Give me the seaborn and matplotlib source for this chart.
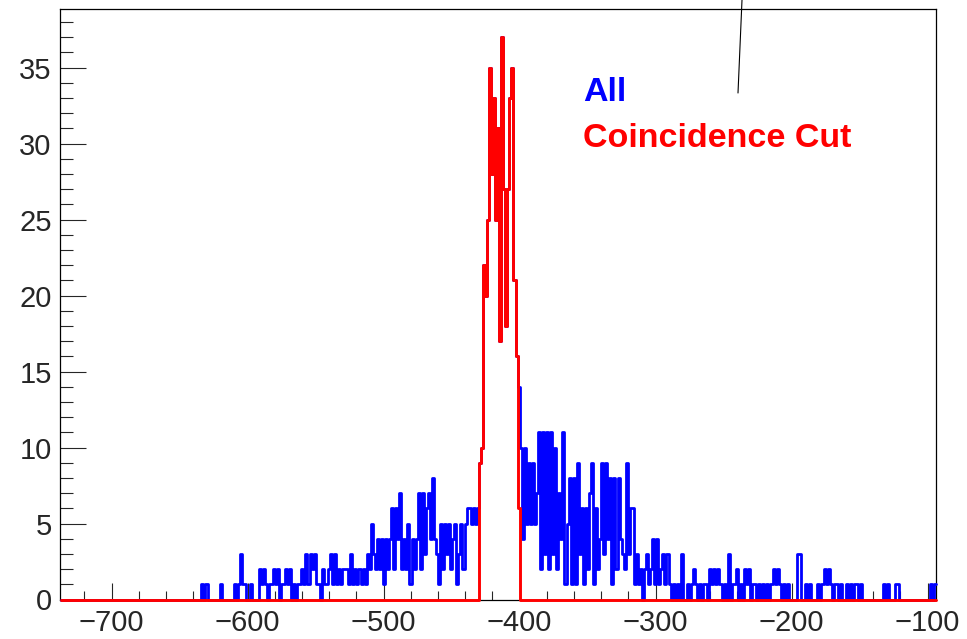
import numpy as np
import pandas as pd
import matplotlib
matplotlib.use("Agg")
import matplotlib.pyplot as plt
from matplotlib.ticker import MultipleLocator
from matplotlib.lines import Line2D
import seaborn as sns

# Histogram binning: 1.5 wide bins over the plotted range
x_lo, x_hi, bin_w = -737.5, -94.0, 1.5

# Counts of all events, starting at bin edge all_start
all_start = -647.5
all_counts = [
    0, 0, 0, 0, 0, 0, 0, 0, 0, 1,
    0, 1, 0, 0, 0, 0, 0, 0, 1, 0,
    0, 0, 0, 0, 0, 1, 0, 1, 3, 1,
    1, 0, 0, 1, 0, 0, 0, 2, 1, 2,
    1, 0, 1, 1, 2, 1, 2, 0, 1, 1,
    2, 1, 2, 0, 1, 0, 1, 1, 2, 1,
    3, 1, 3, 2, 3, 1, 1, 0, 2, 1,
    1, 2, 3, 1, 3, 1, 2, 1, 2, 2,
    2, 1, 3, 1, 2, 1, 2, 1, 2, 1,
    3, 2, 5, 3, 2, 4, 2, 4, 1, 4,
    2, 4, 6, 2, 6, 4, 7, 2, 4, 2,
    5, 1, 4, 2, 4, 7, 2, 7, 3, 6,
    7, 4, 8, 4, 3, 1, 5, 2, 5, 3,
    5, 2, 4, 5, 1, 3, 5, 2, 5, 6,
    6, 5, 6, 5, 6, 9, 10, 22, 20, 25,
    35, 28, 33, 25, 31, 17, 37, 27, 18, 27,
    33, 35, 21, 16, 14, 10, 4, 10, 5, 9,
    5, 9, 5, 7, 11, 2, 11, 3, 11, 2,
    11, 3, 10, 2, 7, 4, 11, 1, 5, 8,
    1, 8, 1, 9, 3, 6, 1, 6, 2, 7,
    9, 1, 6, 2, 4, 9, 3, 9, 4, 8,
    1, 8, 2, 8, 4, 3, 2, 9, 3, 6,
    6, 1, 3, 1, 2, 0, 2, 3, 1, 2,
    4, 1, 4, 1, 2, 3, 1, 3, 1, 0,
    1, 0, 1, 0, 3, 0, 0, 1, 0, 1,
    2, 1, 0, 1, 0, 1, 1, 0, 2, 1,
    2, 1, 2, 1, 0, 1, 0, 3, 0, 1,
    1, 2, 0, 1, 0, 2, 1, 2, 0, 1,
    1, 0, 1, 0, 1, 0, 1, 0, 1, 2,
    1, 2, 1, 0, 1, 0, 1, 0, 0, 0,
    0, 3, 3, 0, 0, 1, 0, 1, 0, 0,
    0, 1, 0, 1, 2, 1, 2, 1, 0, 1,
    1, 0, 1, 0, 0, 1, 0, 1, 0, 1,
    1, 0, 1, 0, 0, 0, 0, 0, 0, 0,
    0, 0, 0, 1, 0, 1, 0, 0, 0, 1,
    1, 0, 0, 0, 0, 0, 0, 0, 0, 0,
    0, 0, 0, 0, 0, 0, 1, 0, 1,
]

# Counts passing the coincidence cut, starting at bin edge cut_start
cut_start = -430.0
cut_counts = [9, 10, 22, 20, 25, 35, 28, 33, 25, 31,
              17, 37, 27, 18, 27, 33, 35, 21, 16, 6]

legend_labels = ["All", "Coincidence Cut"]
series_colors = ["#0000ff", "#ff0000"]
x_major = [-700, -600, -500, -400, -300, -200, -100]
y_major = [0, 5, 10, 15, 20, 25, 30, 35]

n_bins = int(round((x_hi - x_lo) / bin_w))
edges = [x_lo + bin_w * i for i in range(n_bins + 1)]
centers = [0.5 * (edges[i] + edges[i + 1]) for i in range(n_bins)]


def full_counts(counts, start):
    arr = np.zeros(n_bins)
    i0 = int(round((start - x_lo) / bin_w))
    arr[i0:i0 + len(counts)] = counts
    return arr


df = pd.DataFrame({
    "x": centers,
    "all": full_counts(all_counts, all_start),
    "cut": full_counts(cut_counts, cut_start),
})

sns.set_style("white")
plt.rcParams["font.family"] = ["Liberation Sans", "DejaVu Sans"]

fig = plt.figure(figsize=(9.67, 6.39), dpi=100)
ax = fig.add_axes([60 / 967, 39.5 / 639, 875.7 / 967, 590.5 / 639])

sns.histplot(data=df, x="x", weights="all", bins=edges, element="step",
             fill=False, color=series_colors[0], linewidth=2.0, ax=ax)
sns.histplot(data=df, x="x", weights="cut", bins=edges, element="step",
             fill=False, color=series_colors[1], linewidth=2.1, ax=ax)
for ln, z in zip(ax.lines, [3.0, 3.1]):
    ln.set_clip_on(False)
    ln.set_zorder(z)

ax.set_xlim(-738, -94)
ax.set_ylim(0, 38.85)
ax.set_xlabel("")
ax.set_ylabel("")

ax.set_xticks(x_major)
ax.set_yticks(y_major)
ax.xaxis.set_minor_locator(MultipleLocator(20))
ax.yaxis.set_minor_locator(MultipleLocator(1))
ax.tick_params(axis="x", which="major", direction="in", length=12.5, width=0.8,
               labelsize=21, pad=7, top=False, bottom=True)
ax.tick_params(axis="x", which="minor", direction="in", length=6.3, width=0.8,
               top=False, bottom=True)
ax.tick_params(axis="y", which="major", direction="in", length=18.8, width=0.8,
               labelsize=21, pad=6, right=False, left=True)
ax.tick_params(axis="y", which="minor", direction="in", length=9.4, width=0.8,
               right=False, left=True)
for sp in ax.spines.values():
    sp.set_visible(True)
    sp.set_color("black")
    sp.set_linewidth(0.9)

# Legend entries as coloured bold text
fig.text(583 / 967, 1 - 101 / 639, legend_labels[0], color=series_colors[0],
         fontsize=24.5, fontweight="bold", va="baseline", ha="left")
fig.text(583 / 967, 1 - 147 / 639, legend_labels[1], color=series_colors[1],
         fontsize=24.5, fontweight="bold", va="baseline", ha="left")

# Thin marker line hanging from the top edge
fig.add_artist(Line2D([742 / 967, 738 / 967], [1.0, 1 - 93 / 639],
                      transform=fig.transFigure, color="black", linewidth=0.8))

fig.savefig("out.png", dpi=100)
